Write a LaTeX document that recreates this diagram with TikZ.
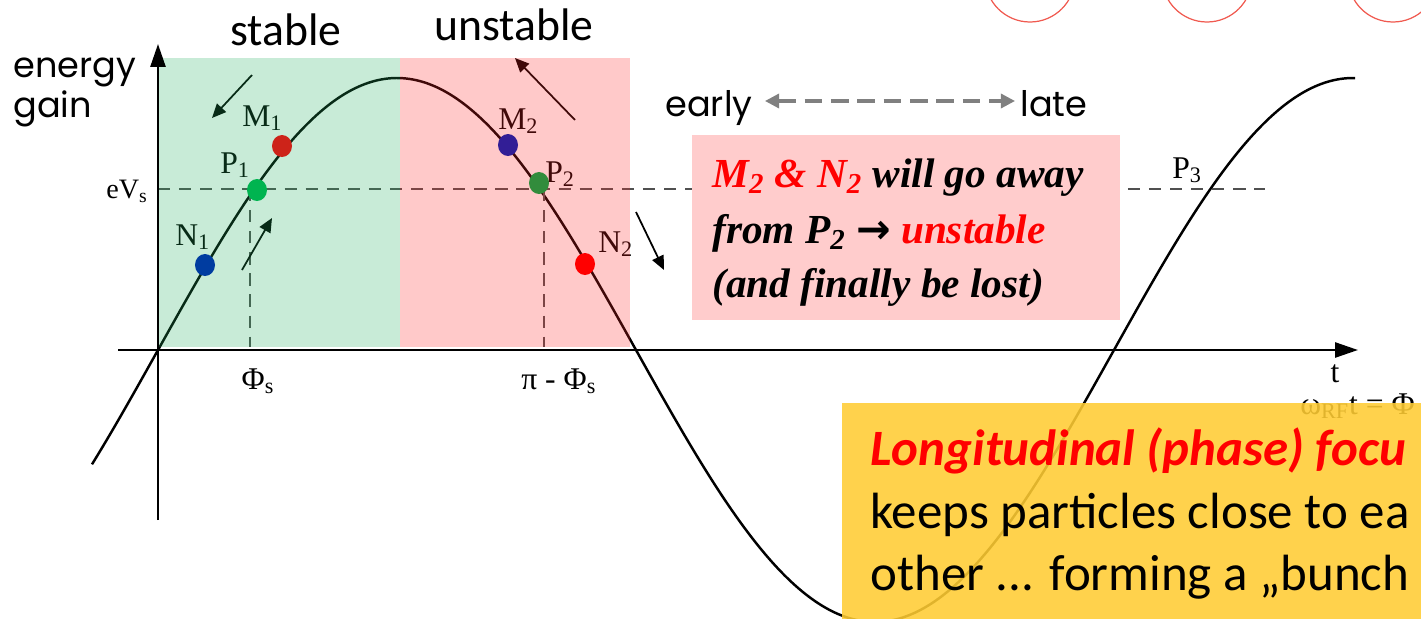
\documentclass[tikz,border=0pt]{standalone}
\usepackage{fontspec}
\setmainfont{Liberation Serif}
\newfontfamily\calib{Carlito}
\newfontfamily\comic{Poppins}
\newfontfamily\dejavu{DejaVu Sans}
\usetikzlibrary{arrows.meta}
\definecolor{stabC}{RGB}{35,175,95}
\definecolor{unstC}{RGB}{255,39,39}
\definecolor{pinkbox}{RGB}{255,204,204}
\definecolor{yelbox}{RGB}{255,204,51}
\definecolor{dN1}{RGB}{0,60,160}
\definecolor{dM1}{RGB}{205,35,25}
\definecolor{dP1}{RGB}{0,180,80}
\definecolor{dM2}{RGB}{50,30,150}
\definecolor{dP2}{RGB}{50,140,60}
\definecolor{dN2}{RGB}{255,0,0}
\definecolor{dashgray}{RGB}{80,80,80}
\definecolor{elgray}{RGB}{128,128,128}
\definecolor{arcred}{RGB}{240,90,80}
\tikzset{
  curveline/.style={line width=1.4pt},
  axisline/.style={line width=1.4pt,-{Triangle[length=13pt,width=8.5pt]}},
  guide/.style={dashgray,line width=0.7pt,dash pattern=on 7pt off 5pt},
  lbl/.style={font=\fontsize{18}{21}\selectfont,inner sep=0pt,anchor=base west},
  move/.style={line width=1pt,-{Triangle[length=8pt,width=7pt]}},
  hand/.style={font=\comic\fontsize{20}{24}\selectfont,inner sep=0pt},
  big/.style={font=\calib\fontsize{26}{30}\selectfont,inner sep=0pt}
}
\newcommand{\cy}[1]{350-272*sin((#1-158)/239*90)}
\begin{document}
\begin{tikzpicture}[x=0.02cm,y=-0.02cm]
\useasboundingbox (0,0) rectangle (1421,619);
% red arcs at top
\foreach \cx in {1030,1207,1393}{
  \draw[arcred,line width=0.7pt] (\cx,-23) circle [radius=45];
}
% curve
\draw[curveline] plot[domain=92:1355,samples=250,smooth] (\x,{\cy{\x}});
% dashed guides
\coordinate (g0) at (158,189);
\coordinate (g1) at (1265,189);
\coordinate (v1a) at (250,189);
\coordinate (v1b) at (250,347);
\coordinate (v2a) at (544,189);
\coordinate (v2b) at (544,347);
\draw[guide] (g0) -- (g1);
\draw[guide] (v1a) -- (v1b);
\draw[guide] (v2a) -- (v2b);
% point labels
\node[lbl] (lM1) at (242,126) {M\textsubscript{1}};
\node[lbl] (lP1) at (220,173) {P\textsubscript{1}};
\node[lbl] (lN1) at (175,245) {N\textsubscript{1}};
\node[lbl] (lM2) at (498,129) {M\textsubscript{2}};
\node[lbl] (lP2) at (545,182) {P\textsubscript{2}};
\node[lbl] (lN2) at (598,252) {N\textsubscript{2}};
\node[lbl] (lP3) at (1172,178) {P\textsubscript{3}};
\node[lbl,anchor=base east,font=\fontsize{16}{19}\selectfont] (leV) at (148,198) {eV\textsubscript{s}};
\node[lbl,anchor=base] (lPhi) at (258,389) {Φ\textsubscript{s}};
\node[lbl] (lpiPhi) at (521,389) {π - Φ\textsubscript{s}};
\node[lbl,anchor=base] (lt) at (1335,382) {t};
\node[lbl] (lw) at (1300,414) {ω\textsubscript{RF}t = Φ};
% movement arrows
\coordinate (a1s) at (252,75);  \coordinate (a1e) at (212,118);
\coordinate (a2s) at (242,270); \coordinate (a2e) at (272,218);
\coordinate (a3s) at (575,120); \coordinate (a3e) at (515,58);
\coordinate (a4s) at (636,212); \coordinate (a4e) at (664,270);
\draw[move] (a1s) -- (a1e);
\draw[move] (a2s) -- (a2e);
\draw[move] (a3s) -- (a3e);
\draw[move] (a4s) -- (a4e);
% coloured regions (overlay)
\fill[stabC,fill opacity=0.25] (158,58) rectangle (400,347);
\fill[unstC,fill opacity=0.25] (400,58) rectangle (630,347);
% axes
\coordinate (yb) at (158,520); \coordinate (yt) at (158,44);
\coordinate (xl) at (118,350); \coordinate (xr) at (1358,350);
\draw[axisline] (yb) -- (yt);
\draw[axisline] (xl) -- (xr);
% dots
\foreach \px/\py/\c in {205/265/dN1, 282/146/dM1, 257/190/dP1, 508/145/dM2, 539/183/dP2, 585/264/dN2}{
  \fill[\c] (\px,\py) ellipse [x radius=10, y radius=11];
}
% titles
\node[big,anchor=base] (tstable) at (286,45) {stable};
\node[big,anchor=base] (tunstable) at (514,40) {unstable};
\node[hand,anchor=base west] (tenergy) at (13,77) {energy};
\node[hand,anchor=base west] (tgain) at (13,117) {gain};
% early / late
\node[hand,anchor=base west] (early) at (665,116) {early};
\node[hand,anchor=base west] (late) at (1020,116) {late};
\coordinate (el0) at (765,101);
\coordinate (el1) at (1015,101);
\draw[elgray,line width=1.8pt,dash pattern=on 10pt off 5pt,
      {Triangle[length=8pt,width=8pt]}-{Triangle[length=8pt,width=8pt]}]
      (el0) -- (el1);
% pink box
\fill[pinkbox] (692,135) rectangle (1120,320);
\begin{scope}[font=\fontsize{23.5}{31}\selectfont\bfseries\itshape]
\node[inner sep=0pt,anchor=base west] (pb1) at (712,187) {\textcolor{red}{M\textsubscript{2} \& N\textsubscript{2}} will go away};
\node[inner sep=0pt,anchor=base west] (pb2) at (712,243) {from P\textsubscript{2} {\dejavu\bfseries\upshape →} \textcolor{red}{unstable}};
\node[inner sep=0pt,anchor=base west] (pb3) at (712,297) {(and finally be lost)};
\end{scope}
% yellow box
\fill[yelbox,fill opacity=0.88] (842,403) rectangle (1425,622);
\node[inner sep=0pt,anchor=base west,text=red,font=\calib\fontsize{29}{35}\selectfont\bfseries\itshape] (yb1) at (870,465) {Longitudinal (phase) focu};
\node[inner sep=0pt,anchor=base west,font=\calib\fontsize{29}{35}\selectfont] (yb2) at (870,528) {keeps particles close to ea};
\node[inner sep=0pt,anchor=base west,font=\calib\fontsize{29}{35}\selectfont] (yb3) at (870,590) {other ... forming a „bunch};
\end{tikzpicture}
\end{document}
